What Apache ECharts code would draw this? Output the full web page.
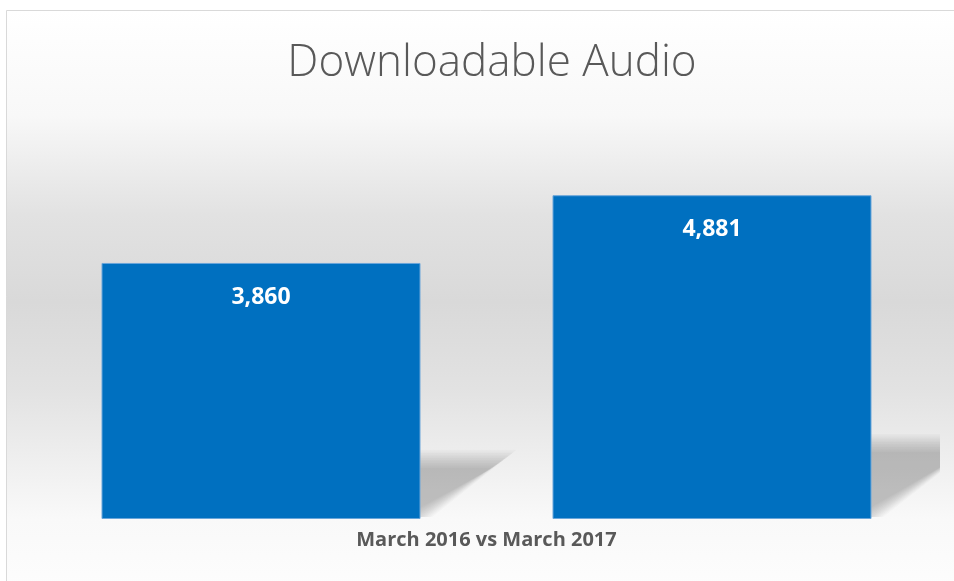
<!DOCTYPE html>
<html>
<head>
<meta charset="utf-8">
<script src="https://cdn.jsdelivr.net/npm/echarts@6/dist/echarts.min.js"></script>
<style>html,body{margin:0;padding:0;background:#fff;}#c{width:954px;height:581px;}</style>
</head>
<body>
<div id="c"></div>
<script>
const titleText = 'Downloadable Audio';
const categories = ['March 2016 vs March 2017'];
const seriesNames = ['March 2016', 'March 2017'];
const values = [3860, 4881];

const BAR_W = 319, BAR_GAP = 132;
const chart = echarts.init(document.getElementById('c'));

const barSeries = values.map((v, i) => ({
  name: seriesNames[i],
  type: 'bar',
  z: 3,
  barWidth: BAR_W,
  barGap: (BAR_GAP / BAR_W * 100) + '%',
  data: [v],
  itemStyle: { color: '#0070C0', borderColor: '#6aa6da', borderWidth: 1 },
  label: {
    show: true, position: 'insideTop', distance: 23,
    color: '#ffffff', fontFamily: 'Open Sans', fontWeight: 'bold', fontSize: 23,
    formatter: p => p.value.toLocaleString('en-US')
  }
}));

const shadowSeries = {
  type: 'custom',
  z: 1,
  clip: true,
  silent: true,
  encode: { x: 0, y: 1 },
  data: values.map((v, i) => [0, v, i]),
  renderItem: (params, api) => {
    const v = api.value(1), i = api.value(2);
    const top = api.coord([0, v]);
    const base = api.coord([0, 0]);
    const n = values.length;
    const cx = top[0] + (i - (n - 1) / 2) * (BAR_W + BAR_GAP);
    const left = cx - BAR_W / 2, right = cx + BAR_W / 2;
    const bottom = base[1];
    const H = bottom - top[1];
    const dx = 0.33 * H, dy = 0.235 * H;
    const layers = [];
    const N = 12;
    for (let k = 0; k < N; k++) {
      const e = -9 + 18 * k / (N - 1);
      const yb = bottom - 2 + Math.min(e, 0) * 0.3;
      const yt = bottom - dy - e;
      layers.push({
        type: 'polygon',
        shape: { points: [[left, yb], [right + e * 1.3, yb], [right + dx + e * 1.3, yt], [left + dx, yt]] },
        style: { fill: 'rgba(0,0,0,0.021)' }
      });
    }
    return { type: 'group', children: layers };
  }
};

chart.setOption({
  animation: false,
  graphic: [{
    type: 'rect', z: -10, silent: true,
    shape: { x: 6.5, y: 10.5, width: 1000, height: 620 },
    style: {
      fill: new echarts.graphic.LinearGradient(0, 0, 0, 1, [
        { offset: 0, color: '#ffffff' },
        { offset: 0.17, color: '#f8f8f8' },
        { offset: 0.33, color: '#e2e2e2' },
        { offset: 0.47, color: '#d9d9d9' },
        { offset: 0.61, color: '#e2e2e2' },
        { offset: 0.82, color: '#f9f9f9' },
        { offset: 1, color: '#ffffff' }
      ]),
      stroke: '#d9d9d9', lineWidth: 1
    }
  }],
  title: {
    text: titleText, left: 487, textAlign: 'center', top: 36,
    textStyle: { fontFamily: 'Open Sans', fontWeight: 300, fontSize: 44, color: '#595959' }
  },
  grid: { left: 33, right: 14, top: 121, bottom: 62 },
  xAxis: {
    type: 'category', data: categories,
    axisLine: { show: false }, axisTick: { show: false },
    axisLabel: { margin: 11, fontFamily: 'Open Sans', fontWeight: 'bold', fontSize: 20, color: '#595959' }
  },
  yAxis: { type: 'value', min: 0, max: 6000, show: false, splitLine: { show: false } },
  series: [shadowSeries, ...barSeries]
});
</script>
</body>
</html>
